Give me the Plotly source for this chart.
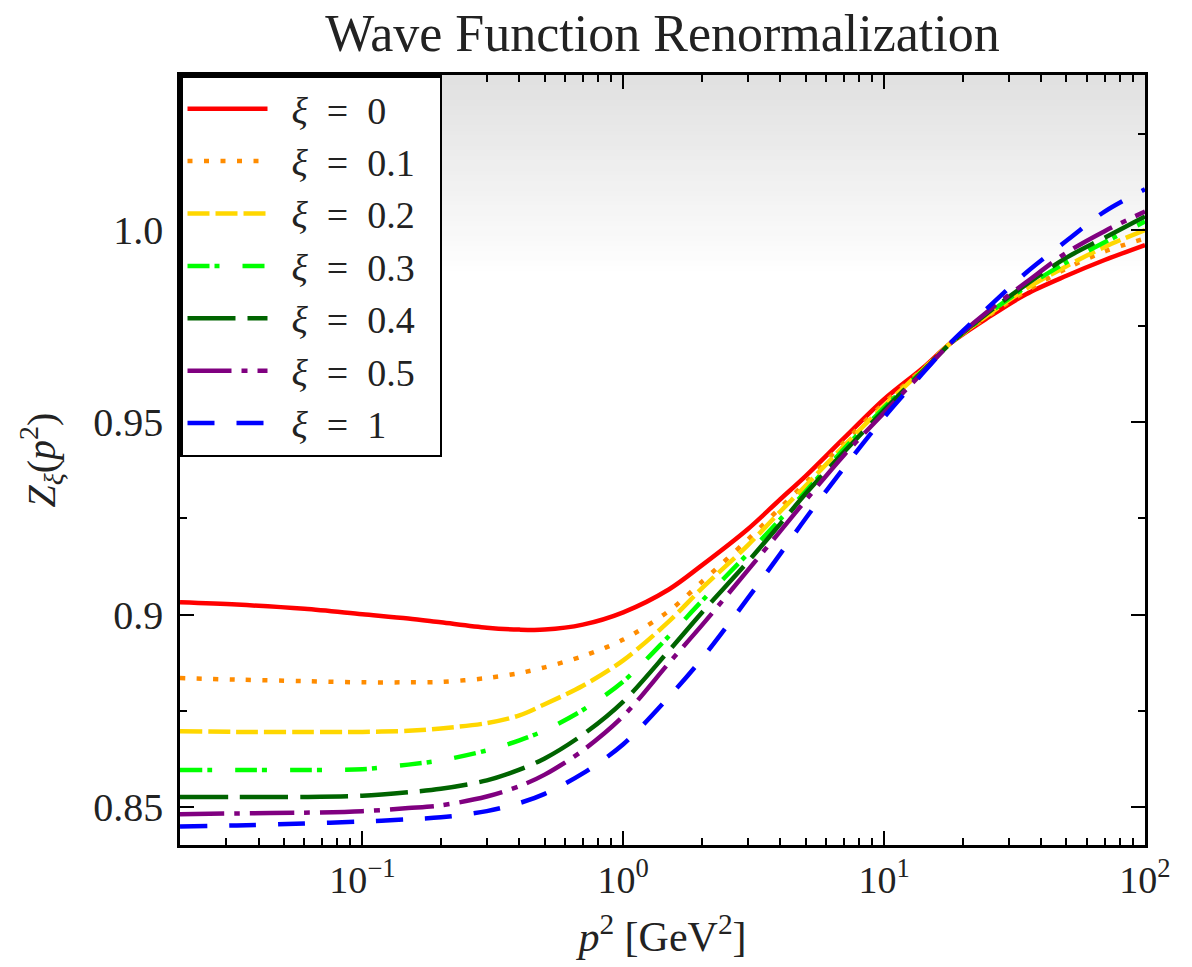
import plotly.graph_objects as go

# ---------------- data ----------------
p2 = [0.02, 0.033, 0.06, 0.1, 0.15, 0.2, 0.3, 0.4, 0.5, 0.7, 1.0, 1.5, 2.0, 3.0,
      4.0, 5.0, 7.0, 10, 14, 18, 25, 35, 50, 70, 100]

z_xi_0 = [0.9032, 0.9026, 0.9015, 0.9001, 0.8990, 0.8980, 0.8966, 0.8961, 0.8961, 0.8974,
          0.9006, 0.9066, 0.9128, 0.9222, 0.9300, 0.9360, 0.9458, 0.9560, 0.9640, 0.9706,
          0.9772, 0.9833, 0.9881, 0.9922, 0.9961]
z_xi_01 = [0.8835, 0.8831, 0.8827, 0.8824, 0.8824, 0.8825, 0.8835, 0.8848, 0.8863, 0.8892,
           0.8935, 0.9010, 0.9085, 0.9195, 0.9278, 0.9343, 0.9447, 0.9550, 0.9637, 0.9706,
           0.9776, 0.9841, 0.9900, 0.9944, 0.9978]
z_xi_02 = [0.8697, 0.8695, 0.8695, 0.8695, 0.8698, 0.8704, 0.8718, 0.8738, 0.8767, 0.8815,
           0.8881, 0.8983, 0.9068, 0.9180, 0.9268, 0.9335, 0.9438, 0.9543, 0.9635, 0.9706,
           0.9779, 0.9847, 0.9906, 0.9956, 1.0000]
z_xi_03 = [0.8596, 0.8596, 0.8596, 0.8598, 0.8610, 0.8621, 0.8647, 0.8673, 0.8699, 0.8752,
           0.8826, 0.8945, 0.9035, 0.9158, 0.9248, 0.9320, 0.9430, 0.9538, 0.9633, 0.9706,
           0.9782, 0.9852, 0.9916, 0.9968, 1.0022]
z_xi_04 = [0.8526, 0.8526, 0.8526, 0.8529, 0.8538, 0.8547, 0.8569, 0.8597, 0.8626, 0.8688,
           0.8774, 0.8907, 0.9005, 0.9137, 0.9236, 0.9314, 0.9422, 0.9532, 0.9631, 0.9706,
           0.9785, 0.9858, 0.9928, 0.9980, 1.0035]
z_xi_05 = [0.8481, 0.8483, 0.8485, 0.8489, 0.8497, 0.8504, 0.8527, 0.8554, 0.8584, 0.8647,
           0.8736, 0.8875, 0.8972, 0.9115, 0.9217, 0.9297, 0.9414, 0.9525, 0.9629, 0.9706,
           0.9789, 0.9864, 0.9941, 0.9997, 1.0048]
z_xi_1 = [0.8449, 0.8452, 0.8457, 0.8462, 0.8468, 0.8473, 0.8489, 0.8510, 0.8534, 0.8587,
          0.8663, 0.8787, 0.8885, 0.9042, 0.9158, 0.9250, 0.9381, 0.9513, 0.9626, 0.9707,
          0.9798, 0.9889, 0.9972, 1.0048, 1.0106]

series_names = ["0", "0.1", "0.2", "0.3", "0.4", "0.5", "1"]
series_values = [z_xi_0, z_xi_01, z_xi_02, z_xi_03, z_xi_04, z_xi_05, z_xi_1]

x_tick_vals = [0.1, 1, 10, 100]
x_tick_text = ["10<sup>\u22121</sup>", "10<sup>0</sup>", "10<sup>1</sup>", "10<sup>2</sup>"]
y_tick_vals = [0.85, 0.9, 0.95, 1.0]
y_tick_text = ["0.85", "0.9", "0.95", "1.0"]

# ---------------- style ----------------
colors = ["#ff0000", "#ff8c00", "#ffd700", "#00ff00", "#006400", "#800080", "#0000ff"]
dashes = ["solid", "5px,11.5px", "22px,6px", "22px,5px,5px,23px", "48px,12px",
          "44px,10px,6px,10px", "27px,22px"]
FONT = "Liberation Serif"
TXT = "#222222"

fig = go.Figure()
for name, vals, col, dsh in zip(series_names, series_values, colors, dashes):
    fig.add_trace(go.Scatter(
        x=p2, y=vals, mode="lines",
        name="\u2002<i>\u03be</i>\u2002=\u2002" + name + "\u2002",
        legendgroup=name,
        line=dict(color=col, width=4.5, dash=dsh, shape="spline", smoothing=0.9),
    ))

# gray gradient above ~1.0
n_steps = 40
y_lo, y_hi = 0.988, 1.0403
for i in range(n_steps):
    f = (i + 0.5) / n_steps
    g = int(round(255 - f * (255 - 224)))
    fig.add_shape(type="rect", xref="paper", x0=0, x1=1, yref="y",
                  y0=y_lo + (y_hi - y_lo) * i / n_steps,
                  y1=y_lo + (y_hi - y_lo) * (i + 1) / n_steps + 0.0002,
                  fillcolor=f"rgb({g},{g},{g})", line=dict(width=0), layer="below")

minor_x = []
for dec in [0.01, 0.1, 1, 10]:
    for k in range(2, 10):
        minor_x.append(round(dec * k, 4))

fig.update_layout(
    width=1192, height=967,
    margin=dict(l=180, r=47, t=75, b=122),
    paper_bgcolor="white", plot_bgcolor="white",
    font=dict(family=FONT, color=TXT, size=30),
    title=dict(text="Wave Function Renormalization", x=0.5, xref="paper",
               y=1 - 33 / 967, yref="container", yanchor="middle", xanchor="center",
               font=dict(family=FONT, size=52, color=TXT)),
    showlegend=True,
    legend=dict(x=0, y=1, xanchor="left", yanchor="top", bgcolor="white",
                bordercolor="black", borderwidth=2.5, font=dict(family=FONT, size=38, color=TXT),
                itemwidth=80, tracegroupgap=0, traceorder="normal"),
    xaxis=dict(type="log", range=[-1.699, 2], showgrid=False, zeroline=False,
               showline=True, linecolor="black", linewidth=2.5, mirror="allticks",
               ticks="inside", ticklen=14, tickwidth=2, tickcolor="black",
               tickmode="array", tickvals=x_tick_vals, ticktext=x_tick_text,
               tickfont=dict(family=FONT, size=38, color=TXT),
               minor=dict(ticks="inside", ticklen=7, tickwidth=1.5, tickcolor="black",
                          tickmode="array", tickvals=minor_x, showgrid=False),
               title=dict(text="<i>p</i><sup>2</sup> [GeV<sup>2</sup>]",
                          font=dict(family=FONT, size=42, color=TXT), standoff=22)),
    yaxis=dict(range=[0.8401, 1.0403], showgrid=False, zeroline=False,
               showline=True, linecolor="black", linewidth=2.5, mirror="allticks",
               ticks="inside", ticklen=14, tickwidth=2, tickcolor="black",
               tickmode="array", tickvals=y_tick_vals, ticktext=y_tick_text,
               tickfont=dict(family=FONT, size=40, color=TXT), ticklabelstandoff=6,
               minor=dict(ticks="inside", ticklen=7, tickwidth=1.5, tickcolor="black",
                          tickmode="array", tickvals=[0.875, 0.925, 0.975, 1.025], showgrid=False),
               title=dict(text="<i>Z</i><sub><i>\u03be</i></sub>(<i>p</i><sup>2</sup>)",
                          font=dict(family=FONT, size=40, color=TXT), standoff=26)),
)

fig.write_html("out.html")
